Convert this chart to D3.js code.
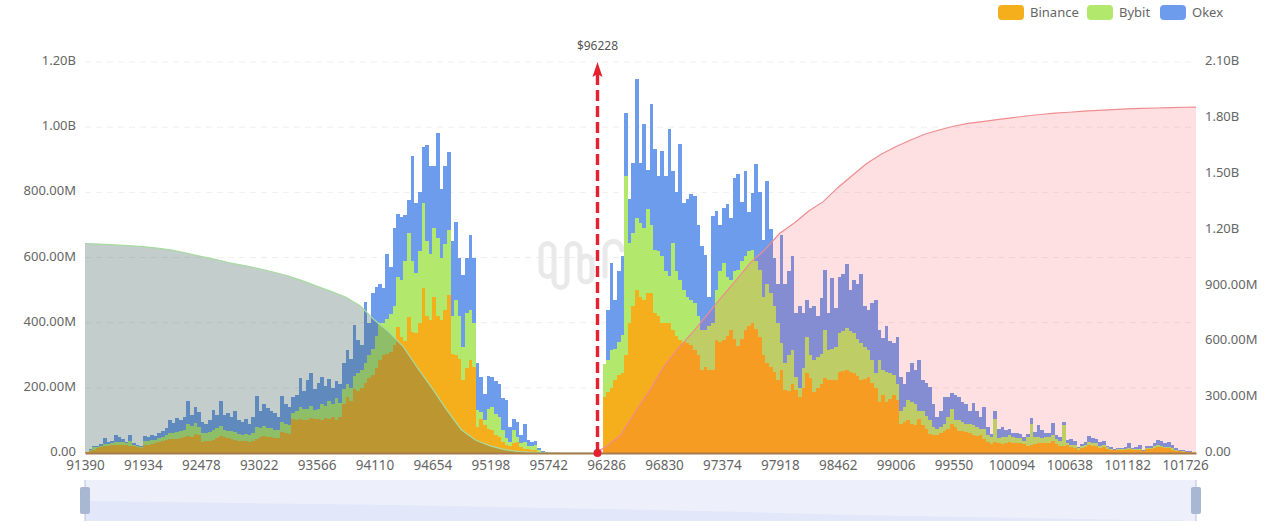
<!DOCTYPE html>
<html>
<head>
<meta charset="utf-8">
<script src="https://cdn.jsdelivr.net/npm/d3@7"></script>
<style>
  html, body { margin: 0; padding: 0; background: #fff; }
  svg { display: block; font-family: "Noto Sans", sans-serif; }
</style>
</head>
<body>
<div id="chart"></div>
<script>
// liquidation map, values in millions, one row per x axis tick interval (16 price levels)
const firstPrice = 91390;
const priceStep = 34;

const binance = [
  2,5,10,14,18,20,22,24,24,25,26,24,22,22,18,16,
  24,26,28,32,34,36,40,44,44,44,46,48,52,50,58,54,
  34,36,38,40,46,52,48,46,42,40,38,36,36,34,36,44,
  50,52,50,48,46,46,64,60,58,104,102,104,100,102,106,104,
  104,100,106,104,110,100,110,150,172,160,195,190,200,215,230,240,
  260,285,300,305,310,330,387,356,345,418,370,367,400,505,420,408,
  480,420,408,440,485,305,300,290,223,260,285,264,80,105,85,75,
  70,55,50,35,24,22,30,34,18,13,12,10,10,4,1,0,
  0,0,0,0,0,0,0,0,0,0,0,0,0,0,0,172,
  188,200,224,240,244,300,398,450,501,480,470,491,491,429,420,398,
  398,398,378,360,347,340,337,330,316,300,255,265,255,255,347,340,
  347,360,378,350,327,350,378,390,398,380,357,300,275,265,250,224,
  255,193,190,213,193,172,200,244,230,187,200,213,229,225,223,223,
  249,252,255,250,244,235,223,228,234,215,200,157,177,155,165,177,
  162,90,95,100,90,85,105,85,75,59,55,54,60,69,75,90,
  80,69,66,64,60,54,52,54,43,35,28,33,30,28,30,33,
  30,30,30,28,22,26,28,30,30,30,32,36,28,22,22,24,
  18,16,10,16,18,24,22,20,16,18,12,10,8,8,9,10,
  12,10,10,10,5,12,12,16,18,18,14,14,10,7,5,4,
  3,2,1,0
];
const bybit = [
  1,5,7,4,4,8,7,6,10,9,7,8,14,4,4,3,
  14,10,12,8,12,14,14,18,16,20,20,24,36,34,34,26,
  26,24,26,30,30,32,24,22,24,24,20,20,22,20,26,36,
  28,32,28,28,26,24,32,28,28,18,28,36,34,34,39,28,
  31,50,39,56,40,70,42,45,41,40,40,55,55,60,70,80,
  100,113,100,105,118,120,154,174,245,256,220,184,220,262,230,204,
  210,240,192,200,200,115,170,130,103,170,153,134,51,20,15,60,
  71,65,60,35,21,13,40,16,12,22,10,10,15,4,1,1,
  0,0,0,0,0,0,0,0,0,0,0,0,0,0,0,100,
  97,116,96,100,118,550,247,226,219,226,220,257,209,195,200,206,
  162,144,267,200,185,160,143,140,144,120,123,113,135,143,154,220,
  236,180,154,210,236,240,226,230,226,210,206,180,245,225,200,174,
  82,82,110,103,40,28,60,113,70,98,95,92,149,91,97,103,
  119,123,128,125,124,115,114,97,82,70,44,128,77,95,79,63,
  51,40,45,62,65,66,25,45,40,41,25,20,20,21,35,46,
  20,31,29,26,28,31,28,20,31,20,20,72,15,20,20,21,
  18,16,15,10,28,64,20,20,16,18,18,20,14,14,63,8,
  8,8,4,6,7,10,10,10,7,8,5,3,2,3,3,3,
  4,2,2,3,2,3,3,5,6,5,5,5,4,2,2,1,
  1,1,1,0
];
const okex = [
  0,2,5,2,6,17,6,8,21,14,9,3,19,6,4,3,
  14,14,15,12,16,16,22,38,32,42,36,40,72,34,48,45,
  36,30,36,62,42,76,46,54,44,64,42,40,46,34,48,95,
  52,66,60,52,50,42,80,62,56,50,48,90,56,89,102,63,
  80,82,60,68,50,50,61,80,102,90,157,101,75,189,100,170,
  150,122,105,202,142,240,194,195,140,103,320,216,180,173,295,268,
  190,322,210,240,240,230,240,180,220,170,231,202,144,109,80,100,
  93,100,103,100,117,45,35,45,24,55,17,14,11,7,3,1,
  0,0,0,0,0,0,0,0,0,0,0,0,0,0,0,0,
  155,267,150,218,242,195,135,215,428,184,320,122,370,308,230,323,
  290,452,221,240,416,268,300,324,328,280,256,231,90,329,242,140,
  170,223,188,285,292,180,262,120,175,296,237,175,315,196,150,122,
  333,245,260,288,197,250,170,113,145,165,125,171,185,114,218,119,
  172,173,196,125,164,170,211,125,124,175,226,93,98,140,101,97,
  142,104,73,88,120,103,155,93,100,103,70,36,50,82,62,48,
  78,72,60,61,42,68,50,36,67,25,10,24,30,32,20,20,
  14,14,13,10,8,18,17,37,24,12,12,36,13,12,11,8,
  17,14,3,6,8,18,14,13,10,12,6,4,2,4,3,4,
  14,4,6,13,3,7,5,9,16,15,11,15,10,5,3,3,
  2,2,1,1
];

// cumulative curves, read every 4th price level, values in millions on the right axis
const longCumulative = [
  1124,1122,1118,1114,1108,1100,1090,1074,1056,1040,1022,1006,990,972,952,926,
  896,868,838,791,714,650,570,454,346,230,125,68,38,18,7,3,1,0,0,0
];
const shortCumulative = [
  0,35,95,220,335,465,565,650,745,840,930,1025,1095,1180,1235,1300,
  1350,1425,1490,1555,1605,1645,1680,1712,1735,1755,1770,1780,1790,1800,1810,1818,
  1825,1830,1836,1840,1844,1848,1851,1853,1855,1857,1858
];
const shortStartPrice = firstPrice + 141 * priceStep; // first level of shortCumulative, spaced as above

const xTickPrices = [91390,91934,92478,93022,93566,94110,94654,95198,95742,96286,96830,97374,97918,98462,99006,99550,100094,100638,101182,101726];
const leftTicks = [0,200,400,600,800,1000,1200];
const rightTicks = [0,300,600,900,1200,1500,1800,2100];
const legendNames = ['Binance','Bybit','Okex'];
const seriesColors = ['#f5ae1c','#b2e96c','#6d9cec'];
const currentPriceLabel = '$96228';
const markPrice = 96205; // the arrow sits a little left of where its label would fall on the axis
// height of the slider's shadow at each x tick
const sliderShadow = [20,19.2,18.4,17.6,17,16.2,15.2,14.2,13,12,10.8,9.6,8,6.4,5.2,4.2,3.2,2.2,1.1,0.3];

const width = 1280, height = 526;
const svg = d3.select('#chart').append('svg')
  .attr('width', width)
  .attr('height', height);

const plotLeft = 85, plotRight = 1196, plotBottom = 453, plotTop = 62;

const categories = binance.map((d, i) => firstPrice + i * priceStep);
const lastPrice = categories[categories.length - 1];

const x = d3.scaleLinear().domain([firstPrice, lastPrice]).range([plotLeft, plotRight]);
const yLeft = d3.scaleLinear().domain([0, 1200]).range([plotBottom, plotTop]);
const yRight = d3.scaleLinear().domain([0, 2100]).range([plotBottom, plotTop]);

function fmt(v) {
  if (v === 0) return '0.00';
  return v >= 1000 ? (v / 1000).toFixed(2) + 'B' : v.toFixed(2) + 'M';
}

// grid
svg.append('g').selectAll('line')
  .data(leftTicks.slice(1))
  .enter().append('line')
  .attr('x1', plotLeft)
  .attr('x2', plotRight)
  .attr('y1', d => yLeft(d))
  .attr('y2', d => yLeft(d))
  .attr('stroke', '#efefef')
  .attr('stroke-dasharray', '6 5');

// watermark
svg.append('path')
  .attr('d', 'M541 250 A6.5 6.5 0 0 1 554 250 V281 A6.5 6.5 0 0 0 567 281 V250 A6.5 6.5 0 0 1 580 250 V276 A6 6 0 0 0 592 276 V262 A6 6 0 0 0 580 262 M541 250 V270 A6 6 0 0 0 554 270 M605 276 V250 A7 7 0 0 1 622 250')
  .attr('fill', 'none')
  .attr('stroke', '#e9e9e9')
  .attr('stroke-width', 5)
  .attr('stroke-linecap', 'round');

// stacked bars
const table = categories.map((p, i) => ({ price: p, Binance: binance[i], Bybit: bybit[i], Okex: okex[i] }));
const stacked = d3.stack().keys(legendNames)(table);
const barWidth = x(firstPrice + priceStep) - x(firstPrice);

svg.append('g')
  .attr('shape-rendering', 'crispEdges')
  .selectAll('g')
  .data(stacked)
  .enter().append('g')
  .attr('fill', (d, i) => seriesColors[i])
  .selectAll('rect')
  .data(d => d)
  .enter().append('rect')
  .attr('x', d => x(d.data.price))
  .attr('width', d => Math.min(barWidth, plotRight - x(d.data.price)))
  .attr('y', d => yLeft(d[1]))
  .attr('height', d => yLeft(d[0]) - yLeft(d[1]));

// cumulative areas on top of the bars
const longPoints = longCumulative.map((v, i) => ({ price: firstPrice + i * 4 * priceStep, value: v }));
const shortPoints = shortCumulative.map((v, i) => ({ price: i === 0 ? shortStartPrice : shortStartPrice + (3 + (i - 1) * 4) * priceStep, value: v }));

function drawCumulative(points, fill, stroke) {
  const area = d3.area().x(d => x(Math.min(d.price, lastPrice))).y0(plotBottom).y1(d => yRight(d.value));
  const line = d3.line().x(d => x(Math.min(d.price, lastPrice))).y(d => yRight(d.value));
  svg.append('path').datum(points).attr('d', area).attr('fill', fill);
  svg.append('path').datum(points).attr('d', line).attr('fill', 'none').attr('stroke', stroke).attr('stroke-width', 1.2);
}
drawCumulative(longPoints, 'rgba(67,99,92,0.32)', '#a6dca0');
drawCumulative(shortPoints, 'rgba(255,60,75,0.16)', '#f08c90');

// axes
const xAxis = d3.axisBottom(x).tickValues(xTickPrices).tickFormat(d => d).tickSize(0).tickPadding(7);
const gx = svg.append('g').attr('transform', `translate(0,${plotBottom})`).call(xAxis);
gx.select('.domain').attr('stroke', '#a67a4c').attr('stroke-width', 2);

const gl = svg.append('g').attr('transform', `translate(${plotLeft},0)`)
  .call(d3.axisLeft(yLeft).tickValues(leftTicks).tickFormat(fmt).tickSize(0).tickPadding(9));
gl.select('.domain').remove();

const gr = svg.append('g').attr('transform', `translate(${plotRight},0)`)
  .call(d3.axisRight(yRight).tickValues(rightTicks).tickFormat(fmt).tickSize(0).tickPadding(9));
gr.select('.domain').remove();

svg.selectAll('.tick text')
  .attr('fill', '#666')
  .attr('font-size', 13)
  .attr('font-family', '"Noto Sans", sans-serif');
gx.selectAll('.tick text').attr('font-size', 13.5);
gl.selectAll('.tick text').attr('dy', '0.2em');
gr.selectAll('.tick text').attr('dy', '0.2em');

// current price marker
const markX = x(markPrice);
svg.append('line')
  .attr('x1', markX).attr('x2', markX)
  .attr('y1', plotBottom).attr('y2', plotTop + 10)
  .attr('stroke', '#e6202e')
  .attr('stroke-width', 3.4)
  .attr('stroke-dasharray', '11 5');
svg.append('path')
  .attr('d', `M${markX} ${plotTop} L${markX + 5} ${plotTop + 15} L${markX} ${plotTop + 12} L${markX - 5} ${plotTop + 15} Z`)
  .attr('fill', '#e6202e');
svg.append('circle')
  .attr('cx', markX).attr('cy', plotBottom).attr('r', 4)
  .attr('fill', '#e6202e');
svg.append('text')
  .attr('x', markX).attr('y', 50)
  .attr('text-anchor', 'middle')
  .attr('font-size', 12)
  .attr('fill', '#555')
  .text(currentPriceLabel);

// legend
const legendX = [998, 1087, 1160];
const legend = svg.append('g').selectAll('g')
  .data(legendNames)
  .enter().append('g')
  .attr('transform', (d, i) => `translate(${legendX[i]},5)`);
legend.append('rect')
  .attr('width', 26).attr('height', 15).attr('rx', 4)
  .attr('fill', (d, i) => seriesColors[i]);
legend.append('text')
  .attr('x', 32).attr('y', 12)
  .attr('font-size', 13)
  .attr('fill', '#666')
  .text(d => d);

// zoom slider
const sliderTop = 480, sliderBottom = 521;
svg.append('rect')
  .attr('x', plotLeft).attr('y', sliderTop)
  .attr('width', plotRight - plotLeft).attr('height', sliderBottom - sliderTop)
  .attr('fill', '#edf0fa');
const sliderY = d3.scaleLinear().domain([0, 20]).range([sliderBottom, sliderTop + 21]);
svg.append('path').datum(sliderShadow)
  .attr('d', d3.area().x((d, i) => x(xTickPrices[i])).y0(sliderBottom).y1(d => sliderY(d)))
  .attr('fill', '#e2e7f9');
[plotLeft, plotRight].forEach(hx => {
  svg.append('line')
    .attr('x1', hx).attr('x2', hx)
    .attr('y1', sliderTop).attr('y2', sliderBottom)
    .attr('stroke', '#b4c1d8');
  svg.append('rect')
    .attr('x', hx - 5).attr('y', 487)
    .attr('width', 10).attr('height', 27).attr('rx', 2)
    .attr('fill', '#a8b8d2');
});
</script>
</body>
</html>
